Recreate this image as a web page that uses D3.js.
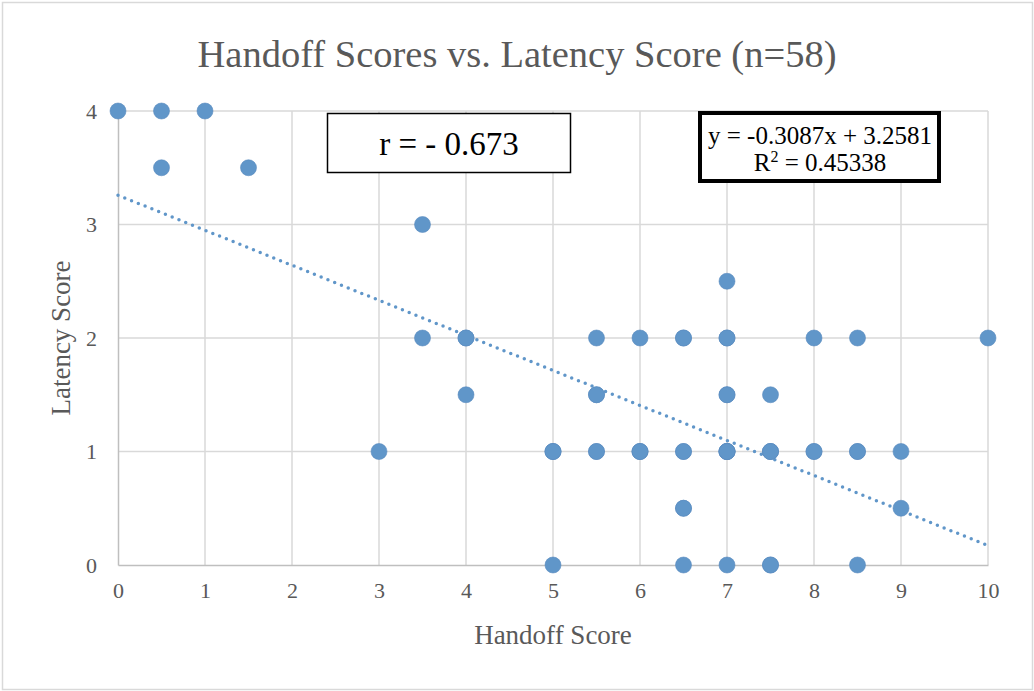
<!DOCTYPE html>
<html>
<head>
<meta charset="utf-8">
<script src="https://cdn.jsdelivr.net/npm/d3@7/dist/d3.min.js"></script>
<style>
  html, body { margin: 0; padding: 0; background: #fff; }
  svg { display: block; }
  text { font-family: "Liberation Serif", "DejaVu Serif", serif; }
</style>
</head>
<body>
<svg id="chart" width="1034" height="691"></svg>
<script>
// ---- Data ----
const handoffScores = [0, 0.5, 1, 0.5, 1.5, 3.5, 3.5, 4, 4, 3, 5, 5, 5.5, 5.5, 5.5, 6, 6, 6.5, 6.5, 6.5, 6.5,
  7, 7, 7, 7, 7, 7.5, 7.5, 7.5, 8, 8, 8.5, 8.5, 8.5, 9, 9, 10,
  7, 7, 7, 7, 5, 5, 6, 6, 7.5, 7.5, 8.5, 6.5, 5.5, 4, 7, 7.5, 6.5, 8, 7, 5.5, 6.5];
const latencyScores = [4, 4, 4, 3.5, 3.5, 3, 2, 2, 1.5, 1, 1, 0, 2, 1.5, 1, 2, 1, 2, 1, 0.5, 0,
  2.5, 2, 1.5, 1, 0, 1.5, 1, 0, 2, 1, 2, 1, 0, 1, 0.5, 2,
  1, 1, 1, 1, 1, 1, 1, 1, 1, 1, 1, 0.5, 1.5, 2, 2, 0, 1, 1, 1.5, 1, 2];
const xTicks = [0, 1, 2, 3, 4, 5, 6, 7, 8, 9, 10];
const yTicks = [0, 1, 2, 3, 4];
const trendSlope = -0.3087;
const trendIntercept = 3.2581;
const titleText = "Handoff Scores vs. Latency Score (n=58)";
const xLabel = "Handoff Score";
const yLabel = "Latency Score";
const rText = "r = - 0.673";
const eqLine1 = "y = -0.3087x + 3.2581";
const r2Value = "0.45338";

const data = handoffScores.map((x, i) => ({x, y: latencyScores[i]}));

// ---- Layout ----
const svg = d3.select("#chart");
const W = 1034, H = 691;
const plot = {left: 118, right: 988, top: 111, bottom: 565};
const gridColor = "#d9d9d9";
const textColor = "#595959";
const pointColor = "#6096c9";

// outer border
svg.append("rect").attr("x", 2.5).attr("y", 2.5).attr("width", W - 4).attr("height", H - 4)
  .attr("fill", "#fff").attr("stroke", "#d9d9d9").attr("stroke-width", 1.5);

const x = d3.scaleLinear().domain([0, 10]).range([plot.left, plot.right]);
const y = d3.scaleLinear().domain([0, 4]).range([plot.bottom, plot.top]);

// gridlines
const grid = svg.append("g");
grid.selectAll("line.v").data(xTicks.slice(1)).join("line")
  .attr("x1", d => x(d)).attr("x2", d => x(d))
  .attr("y1", plot.top).attr("y2", plot.bottom)
  .attr("stroke", gridColor).attr("stroke-width", 1.5);
grid.selectAll("line.h").data(yTicks.slice(1)).join("line")
  .attr("x1", plot.left).attr("x2", plot.right)
  .attr("y1", d => y(d)).attr("y2", d => y(d))
  .attr("stroke", gridColor).attr("stroke-width", 1.5);

// axes
const xAxis = svg.append("g").attr("transform", `translate(0,${plot.bottom})`)
  .call(d3.axisBottom(x).tickValues(xTicks).tickSize(0).tickPadding(17).tickFormat(d3.format("d")));
xAxis.select(".domain").attr("stroke", "#bfbfbf").attr("stroke-width", 1.5);
xAxis.selectAll("text").attr("fill", textColor).style("font-size", "22px");

const yAxis = svg.append("g").attr("transform", `translate(${plot.left},0)`)
  .call(d3.axisLeft(y).tickValues(yTicks).tickSize(0).tickPadding(21).tickFormat(d3.format("d")));
yAxis.select(".domain").attr("stroke", "#bfbfbf").attr("stroke-width", 1.5);
yAxis.selectAll("text").attr("fill", textColor).style("font-size", "22px");

// trendline
const trendX = [0, 10];
svg.append("line")
  .attr("x1", x(trendX[0])).attr("y1", y(trendSlope * trendX[0] + trendIntercept))
  .attr("x2", x(trendX[1])).attr("y2", y(trendSlope * trendX[1] + trendIntercept))
  .attr("stroke", pointColor).attr("stroke-width", 3.5)
  .attr("stroke-dasharray", "0 7.3").attr("stroke-linecap", "round");

// points
svg.append("g").selectAll("circle").data(data).join("circle")
  .attr("cx", d => x(d.x)).attr("cy", d => y(d.y)).attr("r", 8)
  .attr("fill", pointColor).attr("stroke", "#5a8cbf").attr("stroke-width", 0.6);

// title
svg.append("text").attr("x", 517).attr("y", 67).attr("text-anchor", "middle")
  .attr("fill", textColor).style("font-size", "38.5px").text(titleText);

// axis titles
svg.append("text").attr("x", 553).attr("y", 644).attr("text-anchor", "middle")
  .attr("fill", textColor).style("font-size", "27px").text(xLabel);
svg.append("text").attr("transform", "translate(70,338) rotate(-90)").attr("text-anchor", "middle")
  .attr("fill", textColor).style("font-size", "27px").text(yLabel);

// r box
svg.append("rect").attr("x", 327.5).attr("y", 113.5).attr("width", 243).attr("height", 59)
  .attr("fill", "#fff").attr("stroke", "#000").attr("stroke-width", 1.5);
svg.append("text").attr("x", 449).attr("y", 155).attr("text-anchor", "middle")
  .attr("fill", "#000").style("font-size", "33px").text(rText);

// equation box
svg.append("rect").attr("x", 700).attr("y", 113).attr("width", 239).attr("height", 68)
  .attr("fill", "#fff").attr("stroke", "#000").attr("stroke-width", 4);
svg.append("text").attr("x", 820).attr("y", 144).attr("text-anchor", "middle")
  .attr("fill", "#000").style("font-size", "25px").text(eqLine1);
const t2 = svg.append("text").attr("x", 820).attr("y", 171).attr("text-anchor", "middle")
  .attr("fill", "#000").style("font-size", "25px");
t2.append("tspan").text("R");
t2.append("tspan").attr("dy", -9).style("font-size", "16px").text("2");
t2.append("tspan").attr("dy", 9).text(" = " + r2Value);
</script>
</body>
</html>
